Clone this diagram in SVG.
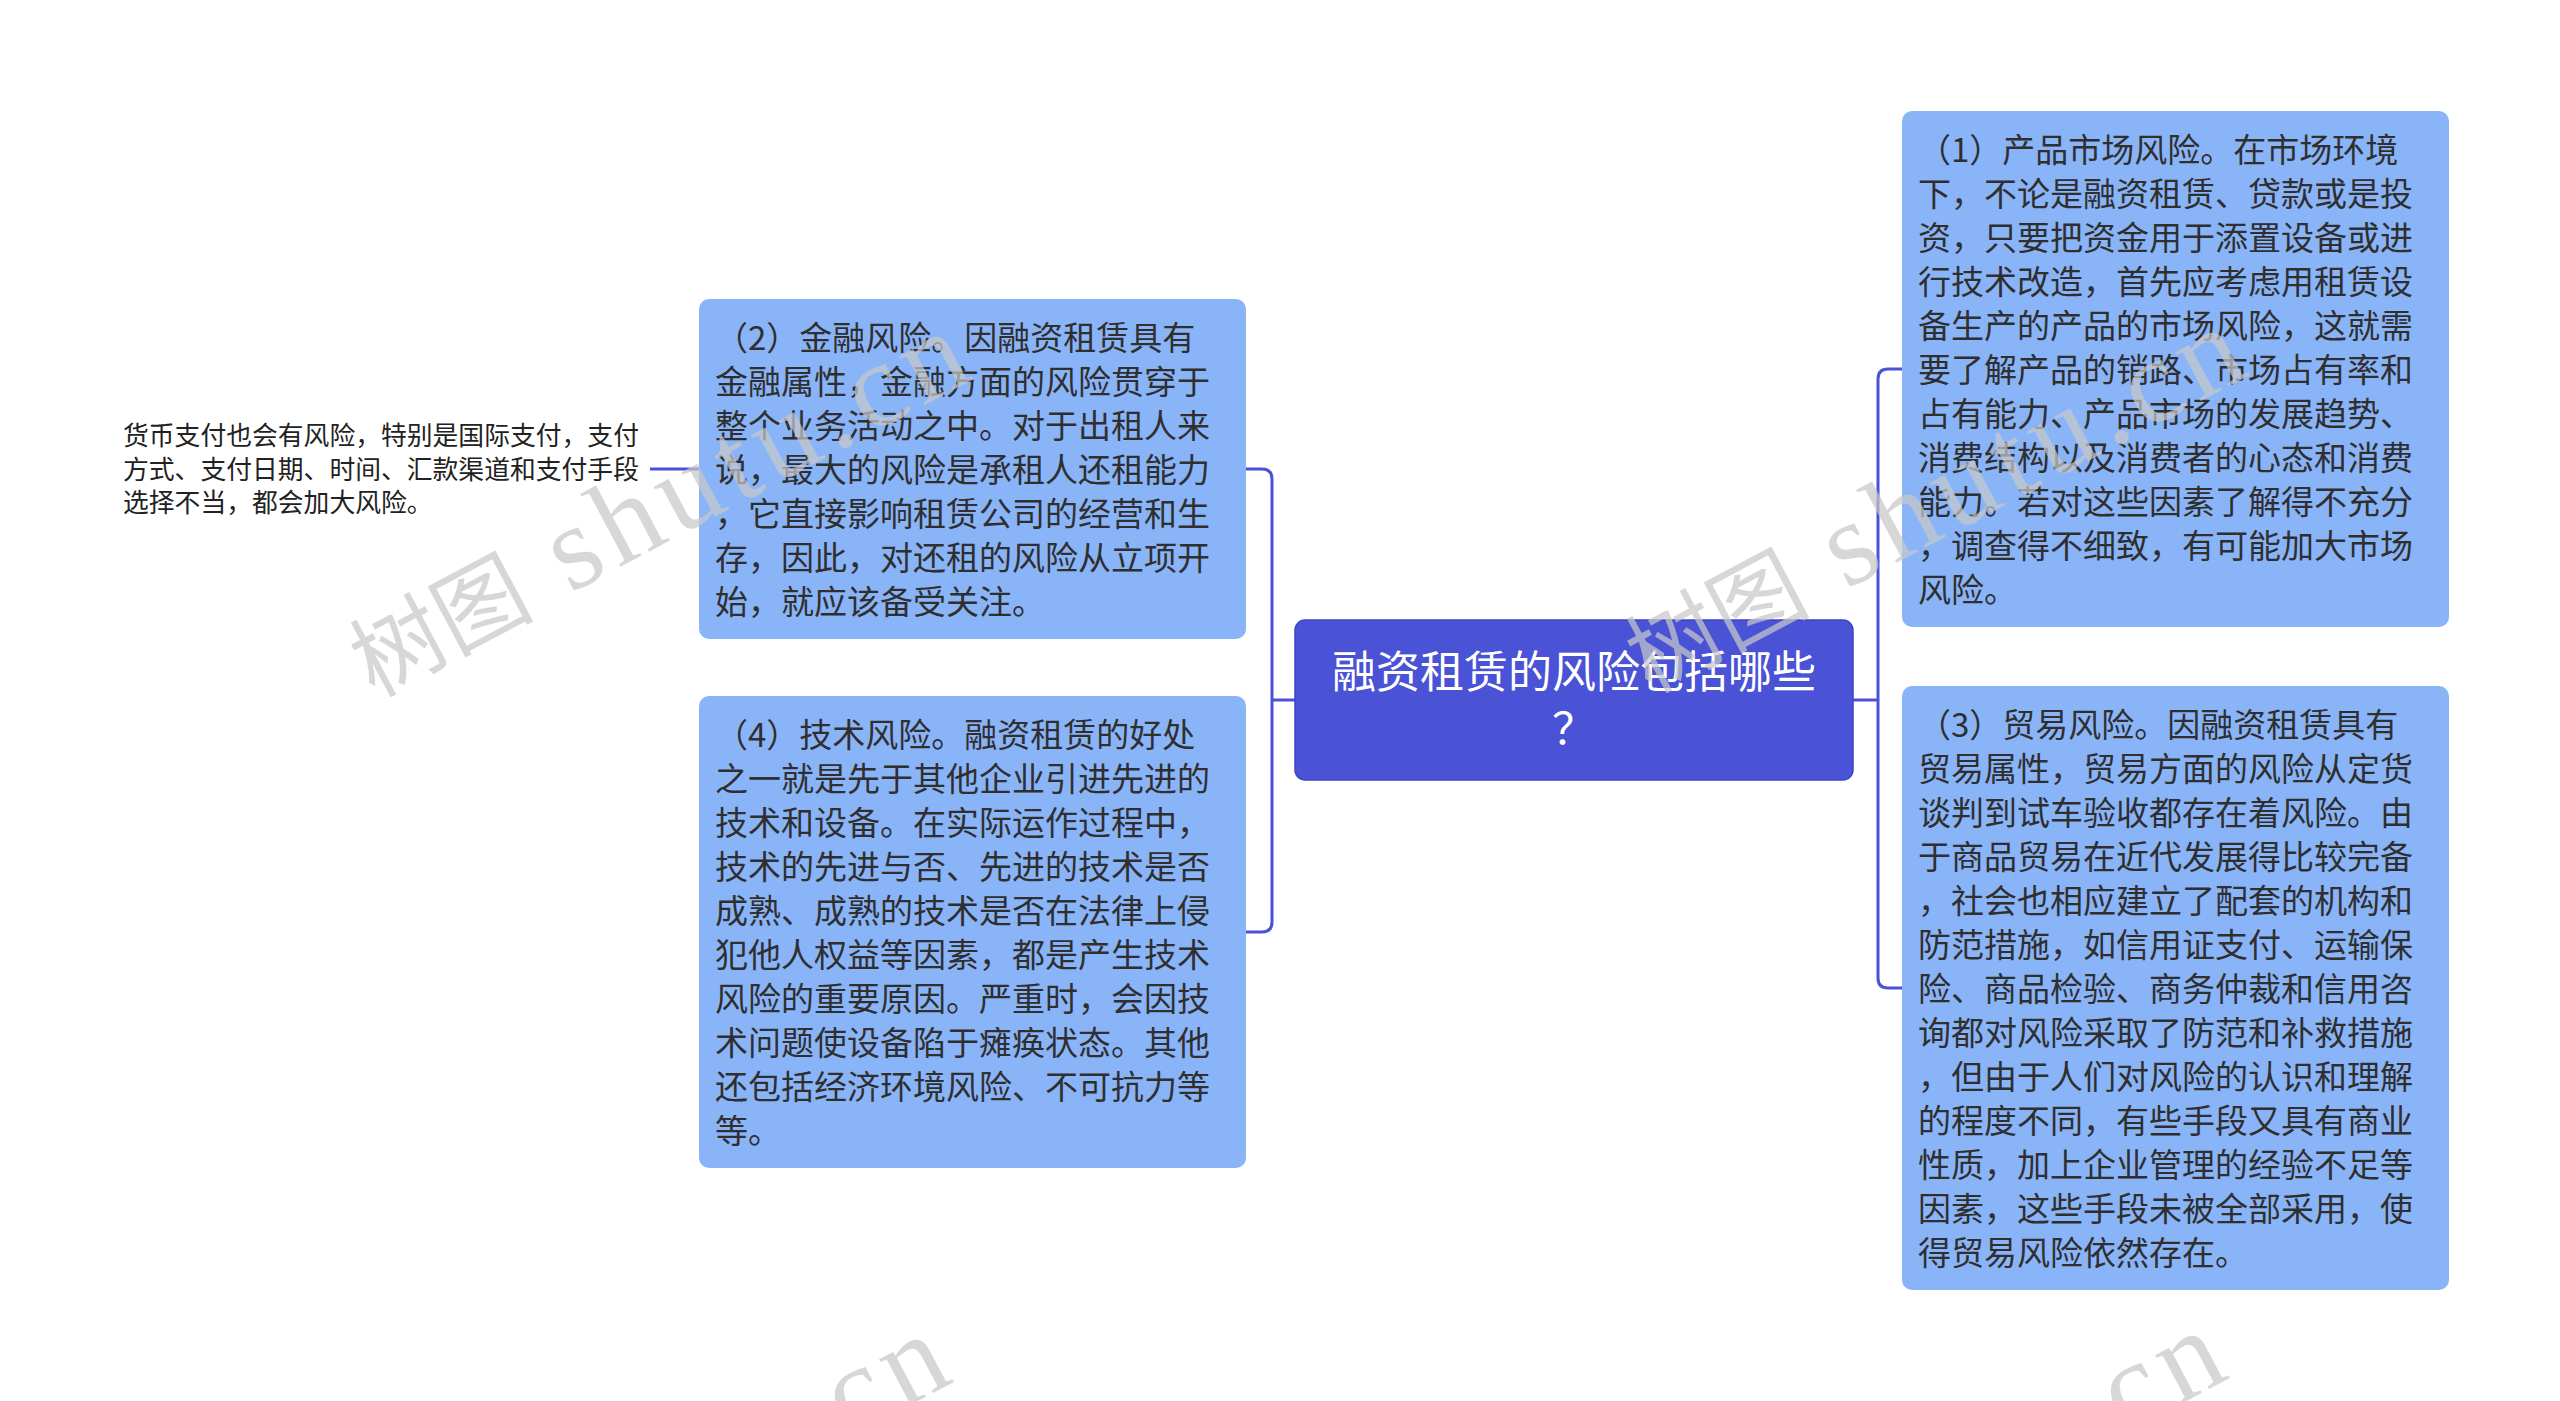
<svg xmlns="http://www.w3.org/2000/svg" width="2560" height="1401" viewBox="0 0 2560 1401">
<style>
.bg{fill:#ffffff}
.child{fill:#8ab4f8}
.root{fill:#4a52d6;stroke:#3f46c4;stroke-width:1.5}
.ct{font-family:"Noto Sans CJK SC","Noto Sans",sans-serif;font-size:33px;fill:#2f2f2f}
.rt{font-family:"Noto Sans CJK SC","Noto Sans",sans-serif;font-size:44px;fill:#ffffff}
.lt{font-family:"Noto Sans CJK SC","Noto Sans",sans-serif;font-size:25.8px;fill:#222222}
.conn{fill:none;stroke:#4a52d6;stroke-width:3}
.wm{font-family:"Liberation Serif","Noto Sans CJK SC",serif;fill:#c8c8c8;fill-opacity:0.72}
</style>
<rect class="bg" x="0" y="0" width="2560" height="1401"/>

<g id="connectors">
  <path class="conn" d="M1295 700 H1272"/>
  <path class="conn" d="M1246 469 H1262 Q1272 469 1272 479 V922 Q1272 932 1262 932 H1246"/>
  <path class="conn" d="M1853 700 H1878"/>
  <path class="conn" d="M1902 369 H1888 Q1878 369 1878 379 V978 Q1878 988 1888 988 H1902"/>
  <path class="conn" d="M650 469 H699"/>
</g>

<g id="root">
  <rect class="root" x="1295" y="620" width="558" height="160" rx="10"/>
  <text class="rt" x="1574" y="688" text-anchor="middle">融资租赁的风险包括哪些</text>
  <text class="rt" x="1574" y="745" text-anchor="middle">？</text>
</g>

<g id="node-market">
  <rect class="child" x="1902" y="111" width="547" height="516" rx="10"/>
  <text class="ct">
    <tspan x="1918" y="161.5">（1）产品市场风险。在市场环境</tspan>
    <tspan x="1918" y="205.5">下，不论是融资租赁、贷款或是投</tspan>
    <tspan x="1918" y="249.5">资，只要把资金用于添置设备或进</tspan>
    <tspan x="1918" y="293.5">行技术改造，首先应考虑用租赁设</tspan>
    <tspan x="1918" y="337.5">备生产的产品的市场风险，这就需</tspan>
    <tspan x="1918" y="381.5">要了解产品的销路、市场占有率和</tspan>
    <tspan x="1918" y="425.5">占有能力、产品市场的发展趋势、</tspan>
    <tspan x="1918" y="469.5">消费结构以及消费者的心态和消费</tspan>
    <tspan x="1918" y="513.5">能力。若对这些因素了解得不充分</tspan>
    <tspan x="1918" y="557.5">，调查得不细致，有可能加大市场</tspan>
    <tspan x="1918" y="601.5">风险。</tspan>
  </text>
</g>

<g id="node-trade">
  <rect class="child" x="1902" y="686" width="547" height="604" rx="10"/>
  <text class="ct">
    <tspan x="1918" y="736.5">（3）贸易风险。因融资租赁具有</tspan>
    <tspan x="1918" y="780.5">贸易属性，贸易方面的风险从定货</tspan>
    <tspan x="1918" y="824.5">谈判到试车验收都存在着风险。由</tspan>
    <tspan x="1918" y="868.5">于商品贸易在近代发展得比较完备</tspan>
    <tspan x="1918" y="912.5">，社会也相应建立了配套的机构和</tspan>
    <tspan x="1918" y="956.5">防范措施，如信用证支付、运输保</tspan>
    <tspan x="1918" y="1000.5">险、商品检验、商务仲裁和信用咨</tspan>
    <tspan x="1918" y="1044.5">询都对风险采取了防范和补救措施</tspan>
    <tspan x="1918" y="1088.5">，但由于人们对风险的认识和理解</tspan>
    <tspan x="1918" y="1132.5">的程度不同，有些手段又具有商业</tspan>
    <tspan x="1918" y="1176.5">性质，加上企业管理的经验不足等</tspan>
    <tspan x="1918" y="1220.5">因素，这些手段未被全部采用，使</tspan>
    <tspan x="1918" y="1264.5">得贸易风险依然存在。</tspan>
  </text>
</g>

<g id="node-finance">
  <rect class="child" x="699" y="299" width="547" height="340" rx="10"/>
  <text class="ct">
    <tspan x="715" y="349.5">（2）金融风险。因融资租赁具有</tspan>
    <tspan x="715" y="393.5">金融属性，金融方面的风险贯穿于</tspan>
    <tspan x="715" y="437.5">整个业务活动之中。对于出租人来</tspan>
    <tspan x="715" y="481.5">说，最大的风险是承租人还租能力</tspan>
    <tspan x="715" y="525.5">，它直接影响租赁公司的经营和生</tspan>
    <tspan x="715" y="569.5">存，因此，对还租的风险从立项开</tspan>
    <tspan x="715" y="613.5">始，就应该备受关注。</tspan>
  </text>
</g>

<g id="node-tech">
  <rect class="child" x="699" y="696" width="547" height="472" rx="10"/>
  <text class="ct">
    <tspan x="715" y="746.5">（4）技术风险。融资租赁的好处</tspan>
    <tspan x="715" y="790.5">之一就是先于其他企业引进先进的</tspan>
    <tspan x="715" y="834.5">技术和设备。在实际运作过程中，</tspan>
    <tspan x="715" y="878.5">技术的先进与否、先进的技术是否</tspan>
    <tspan x="715" y="922.5">成熟、成熟的技术是否在法律上侵</tspan>
    <tspan x="715" y="966.5">犯他人权益等因素，都是产生技术</tspan>
    <tspan x="715" y="1010.5">风险的重要原因。严重时，会因技</tspan>
    <tspan x="715" y="1054.5">术问题使设备陷于瘫痪状态。其他</tspan>
    <tspan x="715" y="1098.5">还包括经济环境风险、不可抗力等</tspan>
    <tspan x="715" y="1142.5">等。</tspan>
  </text>
</g>

<g id="leaf-payment">
  <text class="lt">
    <tspan x="123" y="445">货币支付也会有风险，特别是国际支付，支付</tspan>
    <tspan x="123" y="479">方式、支付日期、时间、汇款渠道和支付手段</tspan>
    <tspan x="123" y="512">选择不当，都会加大风险。</tspan>
  </text>
</g>

<g id="watermarks">
  <text class="wm" transform="translate(374 698) rotate(-28)"><tspan font-family="Noto Sans CJK SC, sans-serif" font-size="92">树图</tspan><tspan font-size="120" letter-spacing="8"> shutu.cn</tspan></text>
  <text class="wm" transform="translate(1650 694) rotate(-28)"><tspan font-family="Noto Sans CJK SC, sans-serif" font-size="92">树图</tspan><tspan font-size="120" letter-spacing="8"> shutu.cn</tspan></text>
  <text class="wm" transform="translate(354 1701) rotate(-28)"><tspan font-family="Noto Sans CJK SC, sans-serif" font-size="92">树图</tspan><tspan font-size="120" letter-spacing="8"> shutu.cn</tspan></text>
  <text class="wm" transform="translate(1630 1697) rotate(-28)"><tspan font-family="Noto Sans CJK SC, sans-serif" font-size="92">树图</tspan><tspan font-size="120" letter-spacing="8"> shutu.cn</tspan></text>
</g>
</svg>
